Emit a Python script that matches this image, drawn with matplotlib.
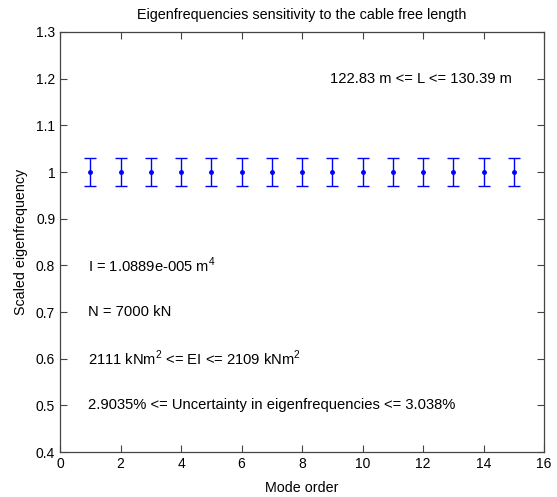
import matplotlib

matplotlib.use("Agg")
import matplotlib.pyplot as plt
from matplotlib.ticker import FuncFormatter

plt.rcParams["font.family"] = ["Liberation Sans", "DejaVu Sans"]
plt.rcParams["mathtext.fontset"] = "custom"
plt.rcParams["mathtext.rm"] = "Liberation Sans"

# Datos
modes = list(range(1, 16))
scaled_freq = [1.0] * 15
err_low = [0.030] * 15
err_high = [0.031] * 15

x_ticks = [0, 2, 4, 6, 8, 10, 12, 14, 16]
y_ticks = [0.4, 0.5, 0.6, 0.7, 0.8, 0.9, 1.0, 1.1, 1.2, 1.3]

notes_left = [
    (0.93, 0.8, r"I = 1.0889e-005 m$^{4}$"),
    (0.93, 0.7, "N = 7000 kN"),
    (0.93, 0.6, r"2111 kNm$^{2}$ <= EI <= 2109 kNm$^{2}$"),
    (0.93, 0.5, "2.9035% <= Uncertainty in eigenfrequencies <= 3.038%"),
]
note_right = (8.93, 1.2, "122.83 m <= L <= 130.39 m")

fig = plt.figure(figsize=(5.57, 4.97), dpi=100)
ax = fig.add_axes([60 / 557, 45 / 497, 484 / 557, 420 / 497])

ax.errorbar(
    modes, scaled_freq, yerr=[err_low, err_high],
    fmt=".", color="#0000ff", ecolor="#0000ff", markersize=5,
    elinewidth=1.0, capsize=4.5, capthick=1.0,
)

ax.set_xlim(0, 16)
ax.set_ylim(0.4, 1.3)
ax.set_xticks(x_ticks)
ax.set_yticks(y_ticks)
ax.yaxis.set_major_formatter(FuncFormatter(lambda v, _: f"{v:g}"))
ax.tick_params(direction="in", top=True, right=True, length=5, width=0.8,
               labelsize=10, colors="#444444", labelcolor="black")
for spine in ax.spines.values():
    spine.set_color("#444444")
    spine.set_linewidth(0.9)

for x, y, txt in notes_left:
    ax.text(x, y, txt, fontsize=10.6, va="center", ha="left")
ax.text(note_right[0], note_right[1], note_right[2], fontsize=10.6, va="center", ha="left")

ax.set_title("Eigenfrequencies sensitivity to the cable free length", fontsize=10.4, pad=9)
ax.set_xlabel("Mode order", fontsize=10.3, labelpad=7)
ax.set_ylabel("Scaled eigenfrequency", fontsize=10.3, labelpad=6)

fig.savefig("out.png", dpi=100)
